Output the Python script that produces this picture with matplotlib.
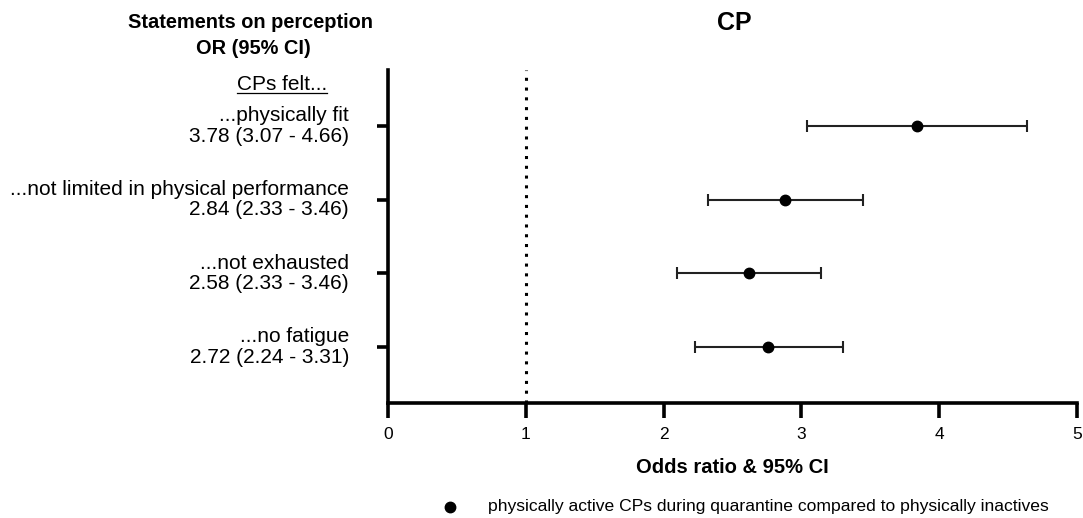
import matplotlib
matplotlib.use("Agg")
import matplotlib.pyplot as plt
from matplotlib.lines import Line2D

plt.rcParams['font.family'] = ['Liberation Sans', 'DejaVu Sans']

statements = ["...physically fit", "...not limited in physical performance",
              "...not exhausted", "...no fatigue"]
or_text = ["3.78 (3.07 - 4.66)", "2.84 (2.33 - 3.46)",
           "2.58 (2.33 - 3.46)", "2.72 (2.24 - 3.31)"]
odds = [3.84, 2.88, 2.62, 2.76]
ci_low = [3.04, 2.32, 2.10, 2.23]
ci_high = [4.64, 3.45, 3.14, 3.30]
xticks = [0, 1, 2, 3, 4, 5]
legend_label = "physically active CPs during quarantine compared to physically inactives"

W, H = 1083, 518
fig = plt.figure(figsize=(W / 100, H / 100), dpi=100)
ax = fig.add_axes([388 / W, 1 - 403 / H, (1077 - 388) / W, (403 - 70) / H])

ypos = [4, 3, 2, 1]
xerr = [[o - l for o, l in zip(odds, ci_low)], [h - o for o, h in zip(odds, ci_high)]]
ax.errorbar(odds, ypos, xerr=xerr, fmt='o', color='black', markersize=7.5,
            elinewidth=1.5, capsize=4, capthick=1.5, ecolor='#222222')
ax.axvline(1, color='black', linestyle=(0, (1, 2.2)), linewidth=2.2)

ax.set_xlim(0, 5)
ax.set_ylim(0.24, 4.76)
ax.set_xticks(xticks)
ax.set_xticklabels([str(t) for t in xticks], fontsize=12.5)
ax.set_yticks(ypos)
ax.set_yticklabels([])
for s in ['top', 'right']:
    ax.spines[s].set_visible(False)
for s in ['left', 'bottom']:
    ax.spines[s].set_linewidth(2.6)
ax.tick_params(axis='x', length=11, width=2.6, pad=6)
ax.tick_params(axis='y', length=8, width=2.6)
ax.set_xlabel("Odds ratio & 95% CI", fontsize=14.5, fontweight='bold', labelpad=12)

# left labels
for y, s, t in zip(ypos, statements, or_text):
    ax.annotate(s + "\n" + t, xy=(0, y), xycoords=('axes fraction', 'data'),
                xytext=(349 / W, 0), textcoords=('figure fraction', 'offset points'),
                ha='right', va='center', fontsize=15, linespacing=1.1)

fig.text(251 / W, 1 - 23 / H, "Statements on perception", ha='center', va='center',
         fontsize=14.4, fontweight='bold')
fig.text(253 / W, 1 - 48 / H, "OR (95% CI)", ha='center', va='center',
         fontsize=14.4, fontweight='bold')
fig.text(734 / W, 1 - 23 / H, "CP", ha='center', va='center',
         fontsize=18, fontweight='bold')

t = fig.text(282 / W, 1 - 84 / H, "CPs felt...", ha='center', va='center', fontsize=15)
fig.canvas.draw()
bb = t.get_window_extent()
fig.add_artist(Line2D([bb.x0 / W, bb.x1 / W], [(bb.y0 + 1) / H, (bb.y0 + 1) / H],
                      color='black', linewidth=0.9, transform=fig.transFigure))

# legend
fig.add_artist(Line2D([450 / W], [1 - 507 / H], marker='o', color='black',
                      markersize=7.5, linestyle='none', transform=fig.transFigure))
fig.text(488 / W, 1 - 507 / H, legend_label, ha='left', va='center', fontsize=12.6)

fig.savefig("out.png", dpi=100)
